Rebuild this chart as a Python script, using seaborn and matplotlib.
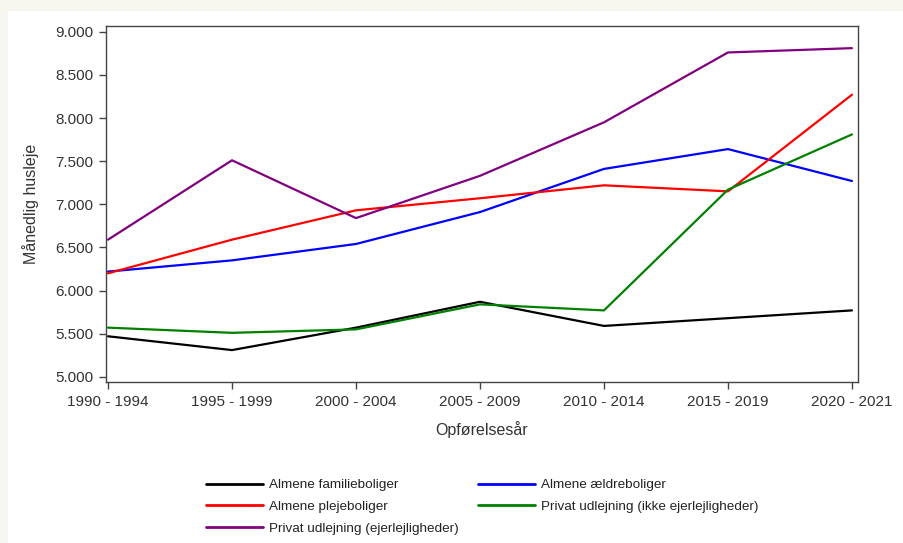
import numpy as np
import pandas as pd
import matplotlib
matplotlib.use("Agg")
import matplotlib.pyplot as plt
from matplotlib.patches import Rectangle
import seaborn as sns

# data
periods = ["1990 - 1994", "1995 - 1999", "2000 - 2004", "2005 - 2009",
           "2010 - 2014", "2015 - 2019", "2020 - 2021"]
familie = [5470, 5310, 5570, 5870, 5590, 5680, 5770]
aeldre = [6220, 6350, 6540, 6910, 7410, 7640, 7270]
pleje = [6200, 6590, 6930, 7070, 7220, 7150, 8270]
privat_ikke = [5570, 5510, 5550, 5840, 5770, 7170, 7810]
privat_ejer = [6590, 7510, 6840, 7330, 7950, 8760, 8810]

series = {
    "Almene familieboliger": familie,
    "Almene ældreboliger": aeldre,
    "Almene plejeboliger": pleje,
    "Privat udlejning (ikke ejerlejligheder)": privat_ikke,
    "Privat udlejning (ejerlejligheder)": privat_ejer,
}
colors = {
    "Almene familieboliger": "black",
    "Almene ældreboliger": "#0000ff",
    "Almene plejeboliger": "#ff0000",
    "Privat udlejning (ikke ejerlejligheder)": "#008000",
    "Privat udlejning (ejerlejligheder)": "#800080",
}

rows = []
for name, vals in series.items():
    for i, v in enumerate(vals):
        rows.append({"pos": i, "periode": periods[i], "serie": name, "leje": v})
df = pd.DataFrame(rows)

sns.set_theme(style="white")
plt.rcParams["font.family"] = ["Liberation Sans", "DejaVu Sans"]

fig = plt.figure(figsize=(9.04, 5.43), dpi=100)
fig.patch.set_facecolor("#f6f6ee")
fig.patches.append(Rectangle((8 / 904, 0), 1, 1 - 11 / 543, transform=fig.transFigure,
                             facecolor="white", edgecolor="none", zorder=-5))
ax = fig.add_axes([0.1173, 0.2965, 0.8317, 0.6555])
ax.set_zorder(1)

sns.lineplot(data=df, x="pos", y="leje", hue="serie", palette=colors,
             linewidth=1.6, ax=ax, legend=False)

ax.set_xlim(-0.016, 6.048)
ax.set_ylim(4940, 9066)
ax.set_xticks(range(len(periods)))
ax.set_xticklabels(periods)
yt = np.arange(5000, 9001, 500)
ax.set_yticks(yt)
ax.set_yticklabels([f"{v:,.0f}".replace(",", ".") for v in yt])
ax.tick_params(axis="both", direction="out", length=5, width=1, color="#444444",
               labelsize=11, labelcolor="#333333", pad=4, bottom=True, left=True)
for s in ax.spines.values():
    s.set_color("#444444")
    s.set_linewidth(1)
ax.set_xlabel("Opførelsesår", fontsize=11.5, color="#333333", labelpad=9)
ax.set_ylabel("Månedlig husleje", fontsize=11.5, color="#333333", labelpad=12)

# legend fills row-wise in the reference: reorder for matplotlib's column fill
order = ["Almene familieboliger", "Almene plejeboliger", "Privat udlejning (ejerlejligheder)",
         "Almene ældreboliger", "Privat udlejning (ikke ejerlejligheder)"]
handles = [plt.Line2D([], [], color=colors[n], linewidth=2) for n in order]
leg = fig.legend(handles, order, ncol=2, loc="upper left", bbox_to_anchor=(0.228, 0.118),
                 frameon=False, fontsize=9.7, handlelength=4.2, handletextpad=0.5,
                 columnspacing=1.4, labelspacing=0.68, borderpad=0, borderaxespad=0)
for t in leg.get_texts():
    t.set_color("#222222")

fig.savefig("out.png", dpi=100)
